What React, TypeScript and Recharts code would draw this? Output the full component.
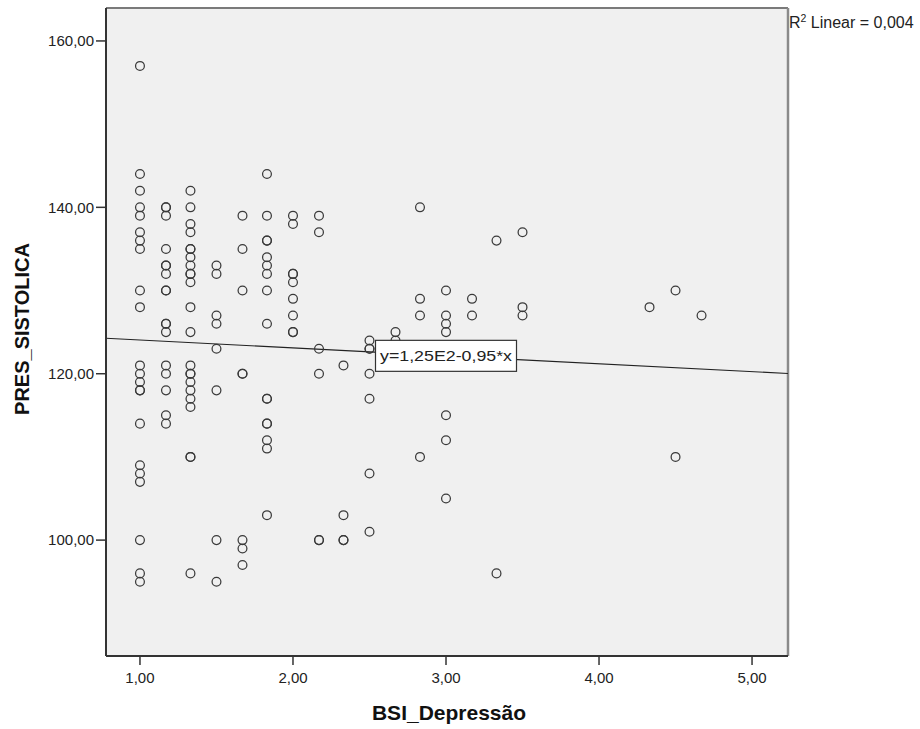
import React from 'react';
import {
  ScatterChart,
  Scatter,
  XAxis,
  YAxis,
  CartesianGrid,
  ReferenceLine,
  ReferenceDot,
} from 'recharts';

// BSI depression score levels (x) and the systolic pressures recorded at each level (y)
const bsiLevels = [1, 1.17, 1.33, 1.5, 1.67, 1.83, 2, 2.17, 2.33, 2.5, 2.67, 2.83, 3, 3.17, 3.33, 3.5, 4.33, 4.5, 4.67];

const systolicAtLevel = [
  [157, 144, 142, 140, 139, 137, 136, 135, 130, 128, 121, 120, 119, 118, 118, 114, 109, 108, 107, 100, 96, 95],
  [140, 140, 139, 135, 133, 133, 132, 130, 130, 126, 126, 125, 121, 120, 118, 115, 114],
  [142, 140, 138, 137, 135, 135, 134, 133, 132, 132, 131, 128, 125, 121, 120, 120, 119, 118, 117, 116, 110, 110, 96],
  [133, 132, 127, 126, 123, 118, 100, 95],
  [139, 135, 130, 120, 120, 100, 99, 97],
  [144, 139, 136, 136, 134, 133, 132, 130, 126, 117, 117, 114, 114, 112, 111, 103],
  [139, 138, 132, 132, 131, 129, 127, 125, 125],
  [139, 137, 123, 120, 100, 100],
  [121, 103, 100, 100],
  [124, 123, 123, 120, 117, 108, 101],
  [125, 124],
  [140, 129, 127, 110],
  [130, 127, 126, 125, 115, 112, 105],
  [129, 127],
  [136, 96],
  [137, 128, 127],
  [128],
  [130, 110],
  [127],
];

const xTicks = [1, 2, 3, 4, 5];
const yTicks = [100, 120, 140, 160];

// Linear fit reported for the data
const fitIntercept = 125;
const fitSlope = -0.95;
const fitLabel = 'y=1,25E2-0,95*x';
const rSquaredText = '0,004';
const fitLabelAtX = 3;

const xTitle = 'BSI_Depressão';
const yTitle = 'PRES_SISTOLICA';

const points = bsiLevels.flatMap((x, i) => systolicAtLevel[i].map((y) => ({ x, y })));

const X_DOMAIN: [number, number] = [0.778, 5.235];
const Y_DOMAIN: [number, number] = [86.07, 163.96];

const FONT = '"Liberation Sans", Arial, Helvetica, sans-serif';
const INK = '#222';

const fmt = (v: number) => v.toFixed(2).replace('.', ',');
const fitAt = (x: number) => fitIntercept + fitSlope * x;

const Ring = (props: any) => (
  <circle cx={props.cx} cy={props.cy} r={4.4} fill="none" stroke="#3a3a3a" strokeWidth={1.25} />
);

const EquationBox = (props: any) => {
  const { cx, cy } = props;
  const w = 141;
  const h = 31;
  return (
    <g>
      <rect x={cx - w / 2} y={cy - h / 2} width={w} height={h} fill="#fff" stroke="#333" strokeWidth={1.2} />
      <text
        x={cx - w / 2 + 4.5}
        y={cy + 5.5}
        fontFamily={FONT}
        fontSize={15.5}
        fill={INK}
        textLength={132}
        lengthAdjust="spacingAndGlyphs"
      >
        {fitLabel}
      </text>
    </g>
  );
};

const XTitle = (props: any) => {
  const vb = props.viewBox || {};
  return (
    <text
      x={vb.x + vb.width / 2 + 2}
      y={vb.y + 64}
      textAnchor="middle"
      fontFamily={FONT}
      fontWeight="bold"
      fontSize={21}
      fill="#111"
    >
      {xTitle}
    </text>
  );
};

const YTitle = (props: any) => {
  const vb = props.viewBox || {};
  const x = vb.x + 2.5;
  const y = vb.y + vb.height / 2 - 3;
  return (
    <text
      x={x}
      y={y}
      transform={`rotate(-90 ${x} ${y})`}
      textAnchor="middle"
      fontFamily={FONT}
      fontWeight="bold"
      fontSize={20}
      fill="#111"
    >
      {yTitle}
    </text>
  );
};

const RSquared = (props: any) => {
  const vb = props.viewBox || {};
  return (
    <text x={vb.x + vb.width + 1} y={vb.y + 20} fontFamily={FONT} fontSize={16} fill={INK}>
      <tspan>R</tspan>
      <tspan dy={-6} fontSize={10.5}>2</tspan>
      <tspan dy={6}> Linear = {rSquaredText}</tspan>
    </text>
  );
};

export default function App() {
  return (
    <div style={{ position: 'absolute', left: 0, top: 0, width: 920, height: 729, background: '#fff' }}>
      <ScatterChart width={920} height={729} margin={{ top: 8, right: 132, bottom: 23, left: 26 }}>
        <CartesianGrid fill="#F0F0F0" horizontal={false} vertical={false} />
        <XAxis
          type="number"
          dataKey="x"
          domain={X_DOMAIN}
          allowDataOverflow
          ticks={xTicks}
          tickFormatter={fmt}
          height={50}
          tickSize={9}
          tickMargin={7}
          axisLine={{ stroke: '#333', strokeWidth: 2 }}
          tickLine={{ stroke: '#333', strokeWidth: 1.5 }}
          tick={{ fill: INK, fontSize: 15, fontFamily: FONT }}
          label={{ content: XTitle }}
        />
        <YAxis
          type="number"
          dataKey="y"
          domain={Y_DOMAIN}
          allowDataOverflow
          ticks={yTicks}
          tickFormatter={fmt}
          width={80}
          tickSize={10}
          tickMargin={2}
          axisLine={{ stroke: '#333', strokeWidth: 2 }}
          tickLine={{ stroke: '#333', strokeWidth: 1.5 }}
          tick={{ fill: INK, fontSize: 15, fontFamily: FONT }}
          label={{ content: YTitle }}
        />
        <ReferenceLine y={Y_DOMAIN[1]} stroke="#7a7a7a" strokeWidth={2} label={{ content: RSquared }} />
        <ReferenceLine x={X_DOMAIN[1]} stroke="#8a8a8a" strokeWidth={2.5} />
        <Scatter data={points} isAnimationActive={false} shape={Ring} />
        <ReferenceLine
          segment={[
            { x: X_DOMAIN[0], y: fitAt(X_DOMAIN[0]) },
            { x: X_DOMAIN[1], y: fitAt(X_DOMAIN[1]) },
          ]}
          stroke="#222"
          strokeWidth={1.2}
        />
        <ReferenceDot x={fitLabelAtX} y={fitAt(fitLabelAtX)} shape={EquationBox} zIndex={2500} />
      </ScatterChart>
    </div>
  );
}
